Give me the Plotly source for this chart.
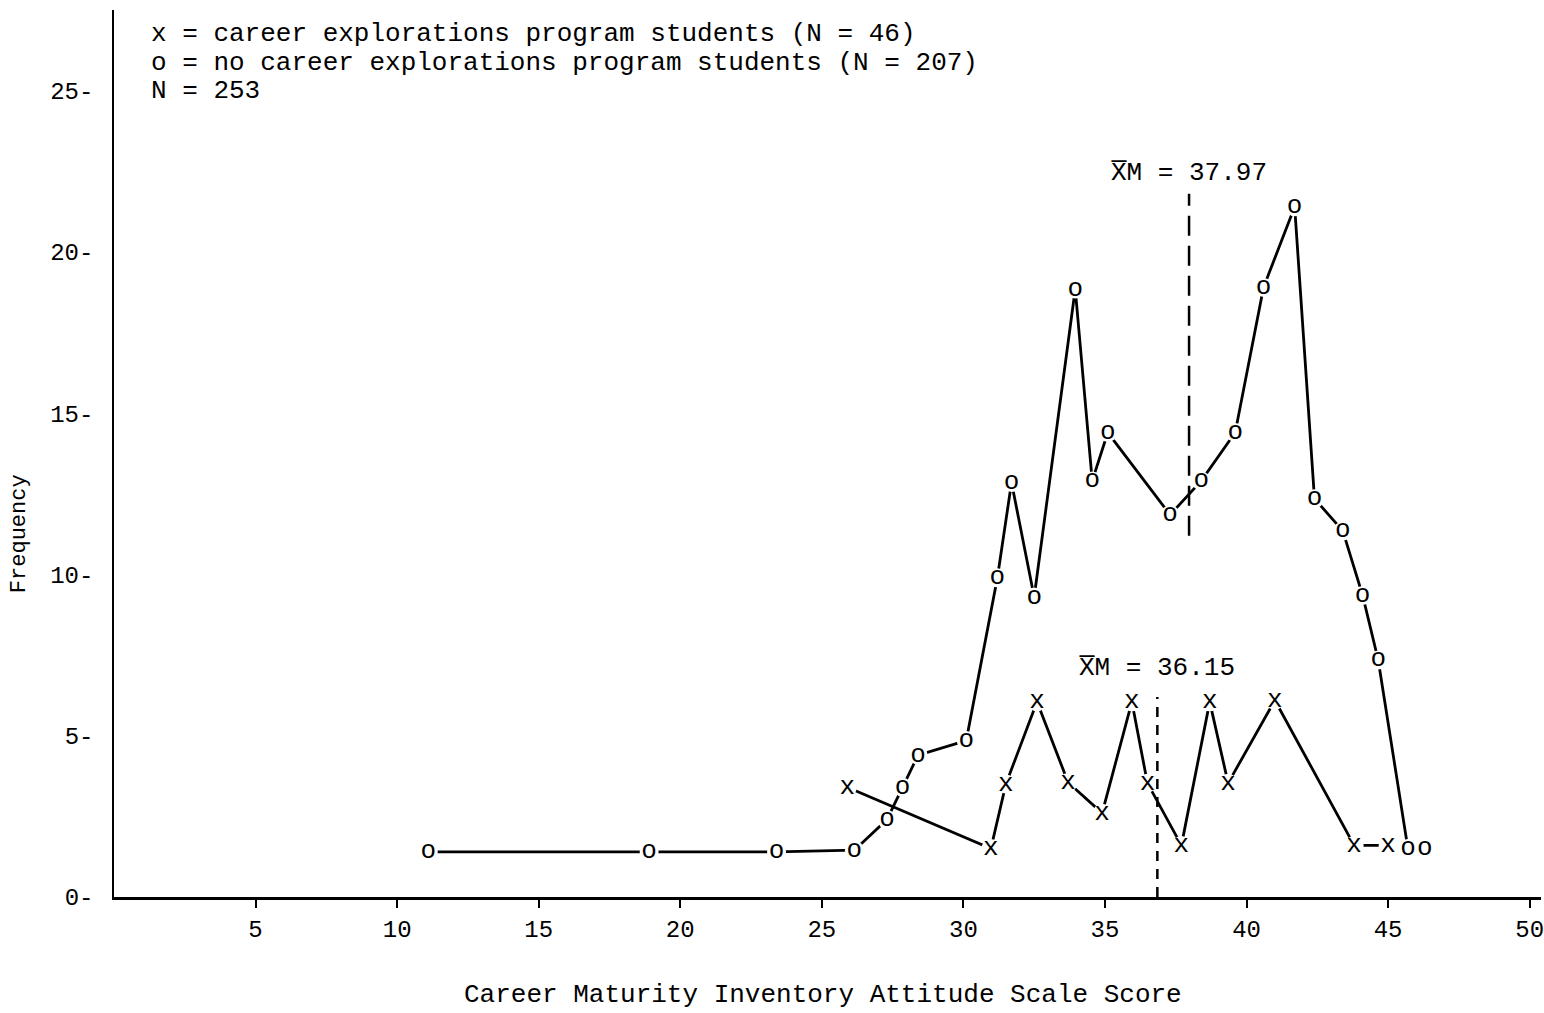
import plotly.graph_objects as go

# --- data ---
o_scores = [11.1, 18.9, 23.4, 26.15, 27.3, 27.85, 28.4, 30.1, 31.2, 31.7, 32.5, 33.95, 34.55, 35.1,
            37.3, 38.4, 39.6, 40.6, 41.7, 42.4, 43.4, 44.1, 44.65, 45.7, 46.3]
o_freq = [1.4, 1.4, 1.4, 1.45, 2.4, 3.4, 4.4, 4.85, 9.9, 12.85, 9.3, 18.85, 12.9, 14.4,
          11.85, 12.9, 14.4, 18.9, 21.4, 12.35, 11.35, 9.35, 7.35, 1.5, 1.5]

x_scores = [25.9, 30.97, 31.5, 32.6, 33.7, 34.9, 35.95, 36.5, 37.7, 38.7, 39.35, 41.0, 43.8, 45.0]
x_freq = [3.4, 1.5, 3.5, 6.05, 3.55, 2.6, 6.05, 3.53, 1.6, 6.05, 3.53, 6.1, 1.6, 1.6]

mean_positions = [37.97, 36.85]
mean_labels = ["X\u0305M = 37.97", "X\u0305M = 36.15"]
mean_tops = [21.8, 6.2]
mean_bottoms = [11.2, 0.0]
mean_label_y = [22.45, 7.1]

x_ticks = [5, 10, 15, 20, 25, 30, 35, 40, 45, 50]
y_ticks = [0, 5, 10, 15, 20, 25]

legend_lines = [
    "x = career explorations program students (N = 46)",
    "o = no career explorations program students (N = 207)",
    "N = 253",
]
legend_y = [26.77, 25.87, 25.0]

x_title = "Career Maturity Inventory Attitude Scale Score"
y_title = "Frequency"

FONT = "Liberation Mono, Courier New, monospace"

fig = go.Figure()

for xs, ys, ch in [(o_scores, o_freq, "o"), (x_scores, x_freq, "x")]:
    fig.add_trace(go.Scatter(
        x=xs, y=ys, mode="lines+markers+text", text=[ch] * len(xs),
        textposition="middle center", textfont=dict(family=FONT, size=26, color="black"),
        line=dict(color="black", width=2.8),
        marker=dict(color="white", size=19, line=dict(width=0)),
        showlegend=False, cliponaxis=False, hoverinfo="skip",
    ))

dashes = ["20px,10px", "10px,8px"]
for pos, lab, top, bot, dsh, ly in zip(mean_positions, mean_labels, mean_tops, mean_bottoms, dashes, mean_label_y):
    fig.add_shape(type="line", x0=pos, x1=pos, y0=bot, y1=top, xref="x", yref="y",
                  line=dict(color="black", width=2.5, dash=dsh))
    fig.add_annotation(x=pos, y=ly, xref="x", yref="y", text=lab, showarrow=False,
                       font=dict(family=FONT, size=26, color="black"), xanchor="center", yanchor="middle")

for line, ly in zip(legend_lines, legend_y):
    fig.add_annotation(x=1.25, y=ly, xref="x", yref="y", text=line, showarrow=False,
                       font=dict(family=FONT, size=26, color="black"), xanchor="left", yanchor="middle")

fig.add_annotation(x=0.497, y=-0.111, xref="paper", yref="paper", text=x_title, showarrow=False,
                   font=dict(family=FONT, size=26, color="black"), xanchor="center", yanchor="middle")
fig.add_annotation(x=-0.066, y=0.41, xref="paper", yref="paper", text=y_title, showarrow=False,
                   textangle=-90, font=dict(family=FONT, size=22, color="black"),
                   xanchor="center", yanchor="middle")

fig.update_layout(
    width=1544, height=1013,
    margin=dict(l=114, r=3, t=10, b=116, autoexpand=False),
    paper_bgcolor="white", plot_bgcolor="white",
    font=dict(family=FONT, color="black"),
    xaxis=dict(range=[0, 50.4], tickvals=x_ticks, ticktext=[str(t) for t in x_ticks],
               showgrid=False, zeroline=False, showline=True, linecolor="black", linewidth=2.5,
               ticks="outside", ticklen=8, tickwidth=2, tickcolor="black",
               tickfont=dict(family=FONT, size=24), ticklabelstandoff=0, automargin=False,
               ticklabeloverflow="allow"),
    yaxis=dict(range=[0, 27.5], tickvals=y_ticks, ticktext=[f"{t}-" for t in y_ticks],
               showgrid=False, zeroline=False, showline=True, linecolor="black", linewidth=1.5,
               ticks="", tickfont=dict(family=FONT, size=24), ticklabelstandoff=14, automargin=False),
)

fig.write_html(
    "out.html",
    config={"displayModeBar": False},
    post_script="document.body.style.margin='0';document.body.style.overflow='hidden';",
)
